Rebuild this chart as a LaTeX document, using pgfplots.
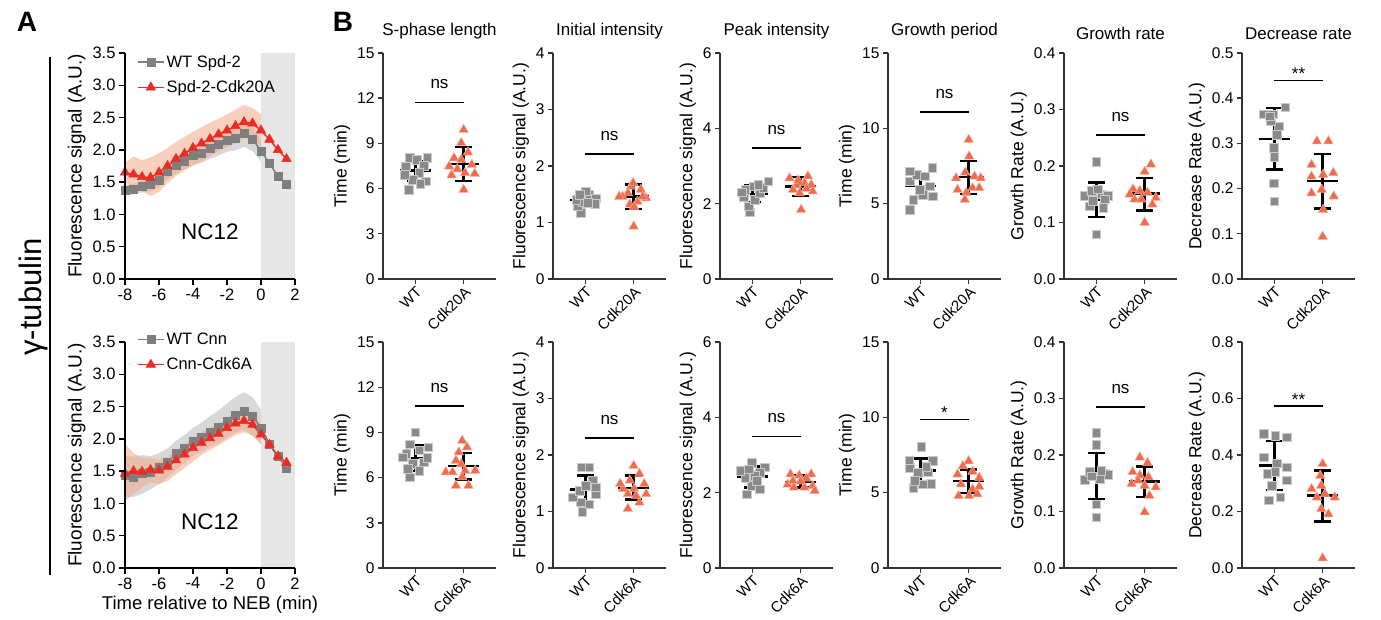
\documentclass[border=0pt]{standalone}
\usepackage{pgfplots}
\pgfplotsset{compat=1.18}
\usepgfplotslibrary{fillbetween}
\usepackage{pgfplotstable}
\usepackage{fontspec}
\setmainfont{Liberation Sans}
\definecolor{wtgray}{HTML}{8A8A8A}
\definecolor{mured}{HTML}{F06A4C}
\definecolor{agray}{HTML}{7F7F7F}
\definecolor{ared}{HTML}{EE2A24}
\definecolor{bandred}{HTML}{F4A886}
\definecolor{bandgray}{HTML}{B8B8B8}
\definecolor{nebgray}{HTML}{E6E6E6}
\newcommand{\fs}[1]{\fontsize{#1}{#1}\selectfont}

\pgfplotstableread{
x wm wu wl rm ru rl
-8   1.38 1.46 1.30 1.65 1.80 1.50
-7.5 1.39 1.47 1.31 1.62 1.90 1.42
-7   1.43 1.52 1.34 1.58 1.84 1.36
-6.5 1.46 1.56 1.36 1.57 1.88 1.28
-6   1.53 1.64 1.42 1.65 1.95 1.35
-5.5 1.67 1.79 1.55 1.75 2.03 1.48
-5   1.76 1.89 1.63 1.86 2.12 1.60
-4.5 1.83 1.96 1.70 1.94 2.20 1.68
-4   1.91 2.05 1.77 2.03 2.28 1.75
-3.5 1.95 2.10 1.80 2.10 2.35 1.82
-3   2.02 2.18 1.86 2.17 2.42 1.90
-2.5 2.08 2.25 1.91 2.24 2.48 1.98
-2   2.15 2.33 1.97 2.30 2.55 2.05
-1.5 2.18 2.37 1.99 2.37 2.62 2.10
-1   2.25 2.45 2.05 2.43 2.70 2.18
-0.5 2.17 2.36 1.98 2.41 2.65 2.15
0    1.98 2.14 1.82 2.30 2.55 2.05
0.5  1.79 1.93 1.65 2.16 2.42 1.90
1    1.59 1.71 1.47 2.00 2.28 1.75
1.5  1.47 1.58 1.36 1.86 2.12 1.62
}\Atop

\pgfplotstableread{
x wm wu wl rm ru rl
-8   1.43 1.75 1.10 1.46 1.92 1.03
-7.5 1.41 1.72 1.10 1.50 1.78 1.15
-7   1.46 1.75 1.15 1.49 1.70 1.25
-6.5 1.49 1.73 1.22 1.52 1.70 1.33
-6   1.56 1.78 1.30 1.51 1.68 1.30
-5.5 1.64 1.85 1.40 1.57 1.72 1.35
-5   1.77 1.97 1.52 1.67 1.82 1.45
-4.5 1.86 2.06 1.63 1.76 1.92 1.55
-4   1.96 2.17 1.73 1.86 2.02 1.65
-3.5 2.03 2.25 1.80 1.94 2.10 1.75
-3   2.11 2.35 1.88 2.01 2.17 1.83
-2.5 2.18 2.44 1.93 2.08 2.24 1.90
-2   2.28 2.55 2.02 2.17 2.32 1.98
-1.5 2.37 2.65 2.10 2.24 2.40 2.06
-1   2.43 2.72 2.15 2.28 2.45 2.10
-0.5 2.35 2.65 2.05 2.22 2.38 2.05
0    2.17 2.45 1.92 2.07 2.22 1.92
0.5  1.92 2.18 1.70 1.91 2.05 1.76
1    1.73 1.98 1.50 1.73 1.90 1.56
1.5  1.55 1.78 1.33 1.63 1.82 1.45
}\Abot

\pgfplotsset{
  aplot/.style={scale only axis, width=170pt, height=226pt, anchor=south west,
    xmin=-8, xmax=2, ymin=0, ymax=3.5,
    xtick={-8,-6,-4,-2,0,2}, ytick={0,0.5,1,1.5,2,2.5,3,3.5},
    axis lines=left, axis line style={-, line width=1.5pt, black},
    tick style={line width=1.5pt, black}, major tick length=6pt, tick align=outside,
    /pgf/number format/assume math mode=true,
    yticklabel style={/pgf/number format/.cd, fixed, fixed zerofill, precision=1},
    tick label style={font=\fs{16.5}},
    ylabel={Fluorescence signal (A.U.)}, ylabel style={font=\fs{19}},
    xlabel style={font=\fs{18.5}},
    axis on top,
    legend style={draw=none, fill=none, font=\fs{16.5}, row sep=8pt, inner sep=0pt,
      /tikz/every even column/.append style={column sep=2pt}},
    legend cell align=left,
    legend image code/.code={\draw[mark repeat=2, mark phase=2, #1] plot coordinates {(0pt,0pt) (13pt,0pt) (26pt,0pt)};},
  },
  wtline/.style={agray, line width=1.5pt, mark=square*, mark size=4pt, mark options={fill=agray, draw=agray, line width=0.5pt}},
  muline/.style={ared, line width=1.5pt, mark=triangle*, mark size=5.5pt, mark options={fill=ared, draw=ared, line width=0.5pt}},
  scat/.style={scale only axis, width=113pt, height=226pt, anchor=south west,
    xmin=-0.67, xmax=1.67, xtick={0,1}, ymin=0,
    axis lines=left, axis line style={-, line width=1.4pt, black!80},
    tick style={line width=1.4pt, black!80}, major tick length=5pt, tick align=outside,
    /pgf/number format/assume math mode=true,
    xticklabel style={rotate=45, anchor=north east, font=\fs{15}, inner sep=1pt},
    yticklabel style={font=\fs{15.5}},
    ylabel style={font=\fs{17.5}},
    title style={font=\fs{17}, yshift=4pt},
    clip=false,
  },
  dec/.style={yticklabel style={/pgf/number format/.cd, fixed, fixed zerofill, precision=1}},
  wtm/.style={only marks, mark=square*, mark size=4.3pt, mark options={fill=wtgray, draw=white!55!wtgray, line width=0.6pt}},
  mum/.style={only marks, mark=triangle*, mark size=5.5pt, mark options={fill=mured, draw=white!45!mured, line width=0.5pt}},
  eb/.style={black, line width=2.4pt, no markers, forget plot},
}

% mean, top, bottom for WT (x=0) then mutant (x=1)
\newcommand{\ebar}[6]{%
  \addplot[eb] coordinates {(0,#3) (0,#2)};
  \addplot[eb] coordinates {(-0.32,#1) (0.32,#1)};
  \addplot[eb] coordinates {(-0.18,#2) (0.18,#2)};
  \addplot[eb] coordinates {(-0.18,#3) (0.18,#3)};
  \addplot[eb] coordinates {(1,#6) (1,#5)};
  \addplot[eb] coordinates {(0.68,#4) (1.32,#4)};
  \addplot[eb] coordinates {(0.82,#5) (1.18,#5)};
  \addplot[eb] coordinates {(0.82,#6) (1.18,#6)};}
\newcommand{\sig}[2]{\draw[line width=1.3pt] (axis cs:0,#1) -- (axis cs:1,#1);
  \node[font=\fs{17}, yshift=18pt] at (axis cs:0.5,#1) {#2};}
\newcommand{\sigs}[2]{\draw[line width=1.3pt] (axis cs:0,#1) -- (axis cs:1,#1);
  \node[font=\fs{17}, anchor=base, yshift=1pt] at (axis cs:0.5,#1) {#2};}

\begin{document}
\begin{tikzpicture}

\node[font=\bfseries\fs{28}] at (27pt,597pt) {A};
\node[font=\bfseries\fs{28}] at (343pt,597pt) {B};
\node[font=\fs{31}, rotate=90] at (33pt,322pt) {γ-tubulin};
\draw[line width=1.5pt] (50pt,562pt) -- (50pt,44pt);

% ---------- Panel A top
\begin{axis}[aplot, at={(125pt,340pt)},
  legend style={at={(axis description cs:0.07,1.0)}, anchor=north west}]
\fill[nebgray] (axis cs:0,0) rectangle (axis cs:2,3.5);
\addplot[name path=wu, draw=none, forget plot] table[x=x,y=wu]{\Atop};
\addplot[name path=wl, draw=none, forget plot] table[x=x,y=wl]{\Atop};
\addplot[bandgray, fill opacity=0.55, forget plot] fill between[of=wu and wl];
\addplot[name path=ru, draw=none, forget plot] table[x=x,y=ru]{\Atop};
\addplot[name path=rl, draw=none, forget plot] table[x=x,y=rl]{\Atop};
\addplot[bandred, fill opacity=0.55, forget plot] fill between[of=ru and rl];
\addplot[wtline] table[x=x,y=wm]{\Atop};
\addplot[muline] table[x=x,y=rm]{\Atop};
\legend{WT Spd-2, Spd-2-Cdk20A}
\node[font=\fs{22.5}] at (axis cs:-3,0.73) {NC12};
\end{axis}

% ---------- Panel A bottom
\begin{axis}[aplot, at={(125pt,51pt)}, xlabel={Time relative to NEB (min)},
  legend style={at={(axis description cs:0.07,1.05)}, anchor=north west}]
\fill[nebgray] (axis cs:0,0) rectangle (axis cs:2,3.5);
\addplot[name path=wu, draw=none, forget plot] table[x=x,y=wu]{\Abot};
\addplot[name path=wl, draw=none, forget plot] table[x=x,y=wl]{\Abot};
\addplot[bandgray, fill opacity=0.55, forget plot] fill between[of=wu and wl];
\addplot[name path=ru, draw=none, forget plot] table[x=x,y=ru]{\Abot};
\addplot[name path=rl, draw=none, forget plot] table[x=x,y=rl]{\Abot};
\addplot[bandred, fill opacity=0.55, forget plot] fill between[of=ru and rl];
\addplot[wtline] table[x=x,y=wm]{\Abot};
\addplot[muline] table[x=x,y=rm]{\Abot};
\legend{WT Cnn, Cnn-Cdk6A}
\node[font=\fs{22.5}] at (axis cs:-3,0.71) {NC12};
\end{axis}

% ---------- Panel B top row
\begin{axis}[scat, at={(383pt,340pt)}, ymax=15, ytick={0,3,6,9,12,15},
  title={S-phase length}, ylabel={Time (min)}, xticklabels={WT,Cdk20A}]
\addplot[wtm] coordinates {(-0.14,5.93) (-0.2,7.48) (-0.12,8.03) (0.03,7.9) (0.25,8.03) (0.18,7.5) (0.08,7.04) (0.22,6.48) (-0.05,6.6) (-0.22,6.9) (0.1,6.3)};
\addplot[mum] coordinates {(1.0,9.91) (0.95,9.03) (1.09,8.41) (0.8,8.03) (0.95,7.92) (1.17,7.59) (0.7,7.48) (0.87,7.30) (1.03,7.04) (1.23,6.99) (0.75,6.9) (1.0,5.93)};
\ebar{7.2}{7.85}{6.5}{7.65}{8.75}{6.5}
\sig{11.72}{ns}
\end{axis}

\begin{axis}[scat, at={(553pt,340pt)}, ymax=4, ytick={0,1,2,3,4},
  title={Initial intensity}, ylabel={Fluorescence signal (A.U.)}, xticklabels={WT,Cdk20A}]
\addplot[wtm] coordinates {(-0.09,1.17) (-0.16,1.29) (-0.05,1.37) (0.15,1.40) (0.08,1.49) (0.22,1.43) (-0.19,1.40) (0.01,1.55) (-0.12,1.49) (0.19,1.33) (0.05,1.35)};
\addplot[mum] coordinates {(1.0,0.93) (0.94,1.64) (1.15,1.58) (0.88,1.52) (0.77,1.46) (1.26,1.43) (1.08,1.37) (0.92,1.32) (1.01,1.28) (0.7,1.46) (1.19,1.46) (0.99,1.70)};
\ebar{1.40}{1.51}{1.29}{1.46}{1.67}{1.24}
\sig{2.21}{ns}
\end{axis}

\begin{axis}[scat, at={(720pt,340pt)}, ymax=6, ytick={0,2,4,6},
  title={Peak intensity}, ylabel={Fluorescence signal (A.U.)}, xticklabels={WT,Cdk20A}]
\addplot[wtm] coordinates {(-0.05,1.77) (-0.08,1.93) (0.05,2.11) (-0.18,2.19) (0.16,2.28) (-0.15,2.37) (0.02,2.46) (0.23,2.42) (0.33,2.59) (-0.22,2.30) (0.12,2.50)};
\addplot[mum] coordinates {(1.01,1.84) (0.77,2.68) (1.15,2.73) (0.92,2.50) (1.08,2.55) (1.25,2.33) (0.84,2.37) (0.98,2.28) (1.22,2.50) (0.95,2.62) (1.12,2.40)};
\ebar{2.26}{2.48}{2.04}{2.46}{2.71}{2.21}
\sig{3.48}{ns}
\end{axis}

\begin{axis}[scat, at={(888pt,340pt)}, ymax=15, ytick={0,5,10,15},
  title={Growth period}, ylabel={Time (min)}, xticklabels={WT,Cdk20A}]
\addplot[wtm] coordinates {(-0.22,4.60) (-0.15,5.27) (0.26,5.49) (0.05,5.60) (0.19,6.15) (-0.22,6.48) (-0.08,6.92) (0.09,6.81) (-0.22,7.15) (0.25,7.37) (-0.01,5.93)};
\addplot[mum] coordinates {(1.0,9.25) (1.01,8.14) (0.93,7.08) (0.74,6.70) (1.12,6.81) (1.25,6.70) (0.77,5.93) (1.08,6.04) (0.95,5.71) (0.92,5.27) (1.22,6.04)};
\ebar{6.19}{6.99}{5.35}{6.75}{7.83}{5.64}
\sig{11.08}{ns}
\end{axis}

\begin{axis}[scat, dec, at={(1064pt,340pt)}, ymax=0.4, ytick={0,0.1,0.2,0.3,0.4},
  title={Growth rate}, ylabel={Growth Rate (A.U.)}, xticklabels={WT,Cdk20A}]
\addplot[wtm] coordinates {(0.0,0.207) (0.0,0.079) (-0.24,0.147) (-0.1,0.156) (0.1,0.150) (0.24,0.147) (-0.14,0.129) (0.14,0.126) (-0.07,0.138) (0.03,0.159) (0.17,0.141)};
\addplot[mum] coordinates {(1.13,0.203) (1.0,0.190) (0.76,0.159) (0.9,0.156) (1.23,0.144) (0.79,0.141) (1.06,0.153) (1.16,0.132) (1.0,0.100) (0.93,0.141) (0.69,0.150)};
\ebar{0.141}{0.171}{0.110}{0.151}{0.179}{0.121}
\sig{0.255}{ns}
\end{axis}

\begin{axis}[scat, dec, at={(1242pt,340pt)}, ymax=0.5, ytick={0,0.1,0.2,0.3,0.4,0.5},
  title={Decrease rate}, ylabel={Decrease Rate (A.U.)}, xticklabels={WT,Cdk20A}]
\addplot[wtm] coordinates {(-0.22,0.364) (-0.03,0.364) (0.23,0.380) (0.09,0.338) (-0.08,0.349) (0.05,0.319) (-0.01,0.290) (0.0,0.270) (-0.01,0.212) (0.0,0.172) (-0.1,0.360)};
\addplot[mum] coordinates {(0.88,0.305) (1.12,0.305) (0.77,0.253) (1.22,0.235) (0.77,0.227) (1.01,0.231) (0.77,0.190) (0.98,0.198) (1.23,0.183) (1.01,0.153) (1.0,0.094)};
\ebar{0.310}{0.378}{0.242}{0.217}{0.277}{0.156}
\sigs{0.439}{**}
\end{axis}

% ---------- Panel B bottom row
\begin{axis}[scat, at={(383pt,51pt)}, ymax=15, ytick={0,3,6,9,12,15},
  ylabel={Time (min)}, xticklabels={WT,Cdk6A}]
\addplot[wtm] coordinates {(0.0,9.02) (-0.12,8.2) (0.27,8.02) (-0.19,7.58) (0.08,7.8) (-0.26,7.36) (0.18,7.02) (-0.05,6.91) (0.25,7.3) (-0.16,6.58) (0.08,6.47) (-0.12,6.03)};
\addplot[mum] coordinates {(0.97,8.46) (1.07,8.02) (0.9,7.69) (0.84,7.13) (0.95,6.9) (0.63,6.36) (0.77,6.36) (1.03,6.47) (1.24,6.47) (0.84,5.47) (1.1,5.47) (0.97,6.03)};
\ebar{7.31}{8.13}{6.45}{6.76}{7.64}{5.87}
\sig{10.75}{ns}
\end{axis}

\begin{axis}[scat, at={(553pt,51pt)}, ymax=4, ytick={0,1,2,3,4},
  ylabel={Fluorescence signal (A.U.)}, xticklabels={WT,Cdk6A}]
\addplot[wtm] coordinates {(-0.06,0.99) (-0.09,1.16) (0.08,1.13) (-0.26,1.25) (0.22,1.31) (0.15,1.55) (-0.07,1.78) (0.08,1.78) (-0.12,1.37) (0.22,1.43) (0.01,1.46)};
\addplot[mum] coordinates {(1.0,1.81) (1.12,1.67) (0.92,1.55) (0.78,1.40) (1.22,1.49) (1.26,1.31) (1.01,1.40) (0.88,1.31) (1.12,1.16) (0.88,1.05) (0.72,1.49) (1.05,1.28)};
\ebar{1.39}{1.64}{1.15}{1.42}{1.64}{1.21}
\sig{2.30}{ns}
\end{axis}

\begin{axis}[scat, at={(720pt,51pt)}, ymax=6, ytick={0,2,4,6},
  ylabel={Fluorescence signal (A.U.)}, xticklabels={WT,Cdk6A}]
\addplot[wtm] coordinates {(-0.12,1.96) (-0.01,2.18) (0.16,2.09) (-0.15,2.40) (0.26,2.67) (-0.01,2.80) (0.16,2.52) (-0.25,2.58) (0.05,2.45) (0.09,2.31) (-0.08,2.62)};
\addplot[mum] coordinates {(0.79,2.49) (0.97,2.46) (1.22,2.49) (0.73,2.22) (0.86,2.14) (1.08,2.14) (1.25,2.18) (0.84,2.31) (1.12,2.38) (1.29,2.05) (1.0,2.30)};
\ebar{2.43}{2.69}{2.14}{2.29}{2.46}{2.14}
\sig{3.50}{ns}
\end{axis}

\begin{axis}[scat, at={(888pt,51pt)}, ymax=15, ytick={0,5,10,15},
  ylabel={Time (min)}, xticklabels={WT,Cdk6A}]
\addplot[wtm] coordinates {(0.02,8.03) (-0.15,5.34) (0.05,5.56) (0.23,5.60) (-0.22,6.66) (-0.05,6.33) (0.26,7.10) (-0.23,7.15) (0.16,6.35) (-0.12,5.78) (0.12,6.70)};
\addplot[mum] coordinates {(1.0,7.10) (0.88,6.77) (1.22,6.0) (0.77,6.22) (1.08,6.4) (0.84,5.56) (1.08,5.23) (1.22,5.4) (0.79,4.79) (1.01,4.79) (1.18,4.9)};
\ebar{6.46}{7.26}{5.67}{5.76}{6.55}{4.96}
\sigs{9.84}{*}
\end{axis}

\begin{axis}[scat, dec, at={(1064pt,51pt)}, ymax=0.4, ytick={0,0.1,0.2,0.3,0.4},
  ylabel={Growth Rate (A.U.)}, xticklabels={WT,Cdk6A}]
\addplot[wtm] coordinates {(0.0,0.239) (0.0,0.218) (-0.24,0.156) (-0.14,0.170) (0.17,0.167) (0.24,0.165) (0.07,0.158) (0.0,0.113) (0.0,0.090) (-0.1,0.162) (0.1,0.172)};
\addplot[mum] coordinates {(0.9,0.196) (1.06,0.186) (0.75,0.170) (0.9,0.164) (1.08,0.161) (0.73,0.149) (1.0,0.146) (1.23,0.143) (1.1,0.128) (1.0,0.099) (0.86,0.155)};
\ebar{0.163}{0.204}{0.122}{0.153}{0.180}{0.126}
\sig{0.285}{ns}
\end{axis}

\begin{axis}[scat, dec, at={(1242pt,51pt)}, ymax=0.8, ytick={0,0.2,0.4,0.6,0.8},
  ylabel={Decrease Rate (A.U.)}, xticklabels={WT,Cdk6A}]
\addplot[wtm] coordinates {(-0.22,0.475) (0.02,0.469) (0.26,0.463) (-0.22,0.392) (0.05,0.37) (0.26,0.357) (-0.15,0.333) (0.26,0.310) (-0.05,0.292) (-0.12,0.239) (0.12,0.250) (0.02,0.34)};
\addplot[mum] coordinates {(1.0,0.369) (0.95,0.327) (0.77,0.280) (0.97,0.292) (1.05,0.262) (1.25,0.250) (0.88,0.250) (0.97,0.209) (1.12,0.191) (1.0,0.035)};
\ebar{0.363}{0.450}{0.277}{0.256}{0.345}{0.165}
\sigs{0.573}{**}
\end{axis}

\pgfresetboundingbox
\useasboundingbox (0pt,0pt) rectangle (1381pt,619pt);
\end{tikzpicture}
\end{document}
